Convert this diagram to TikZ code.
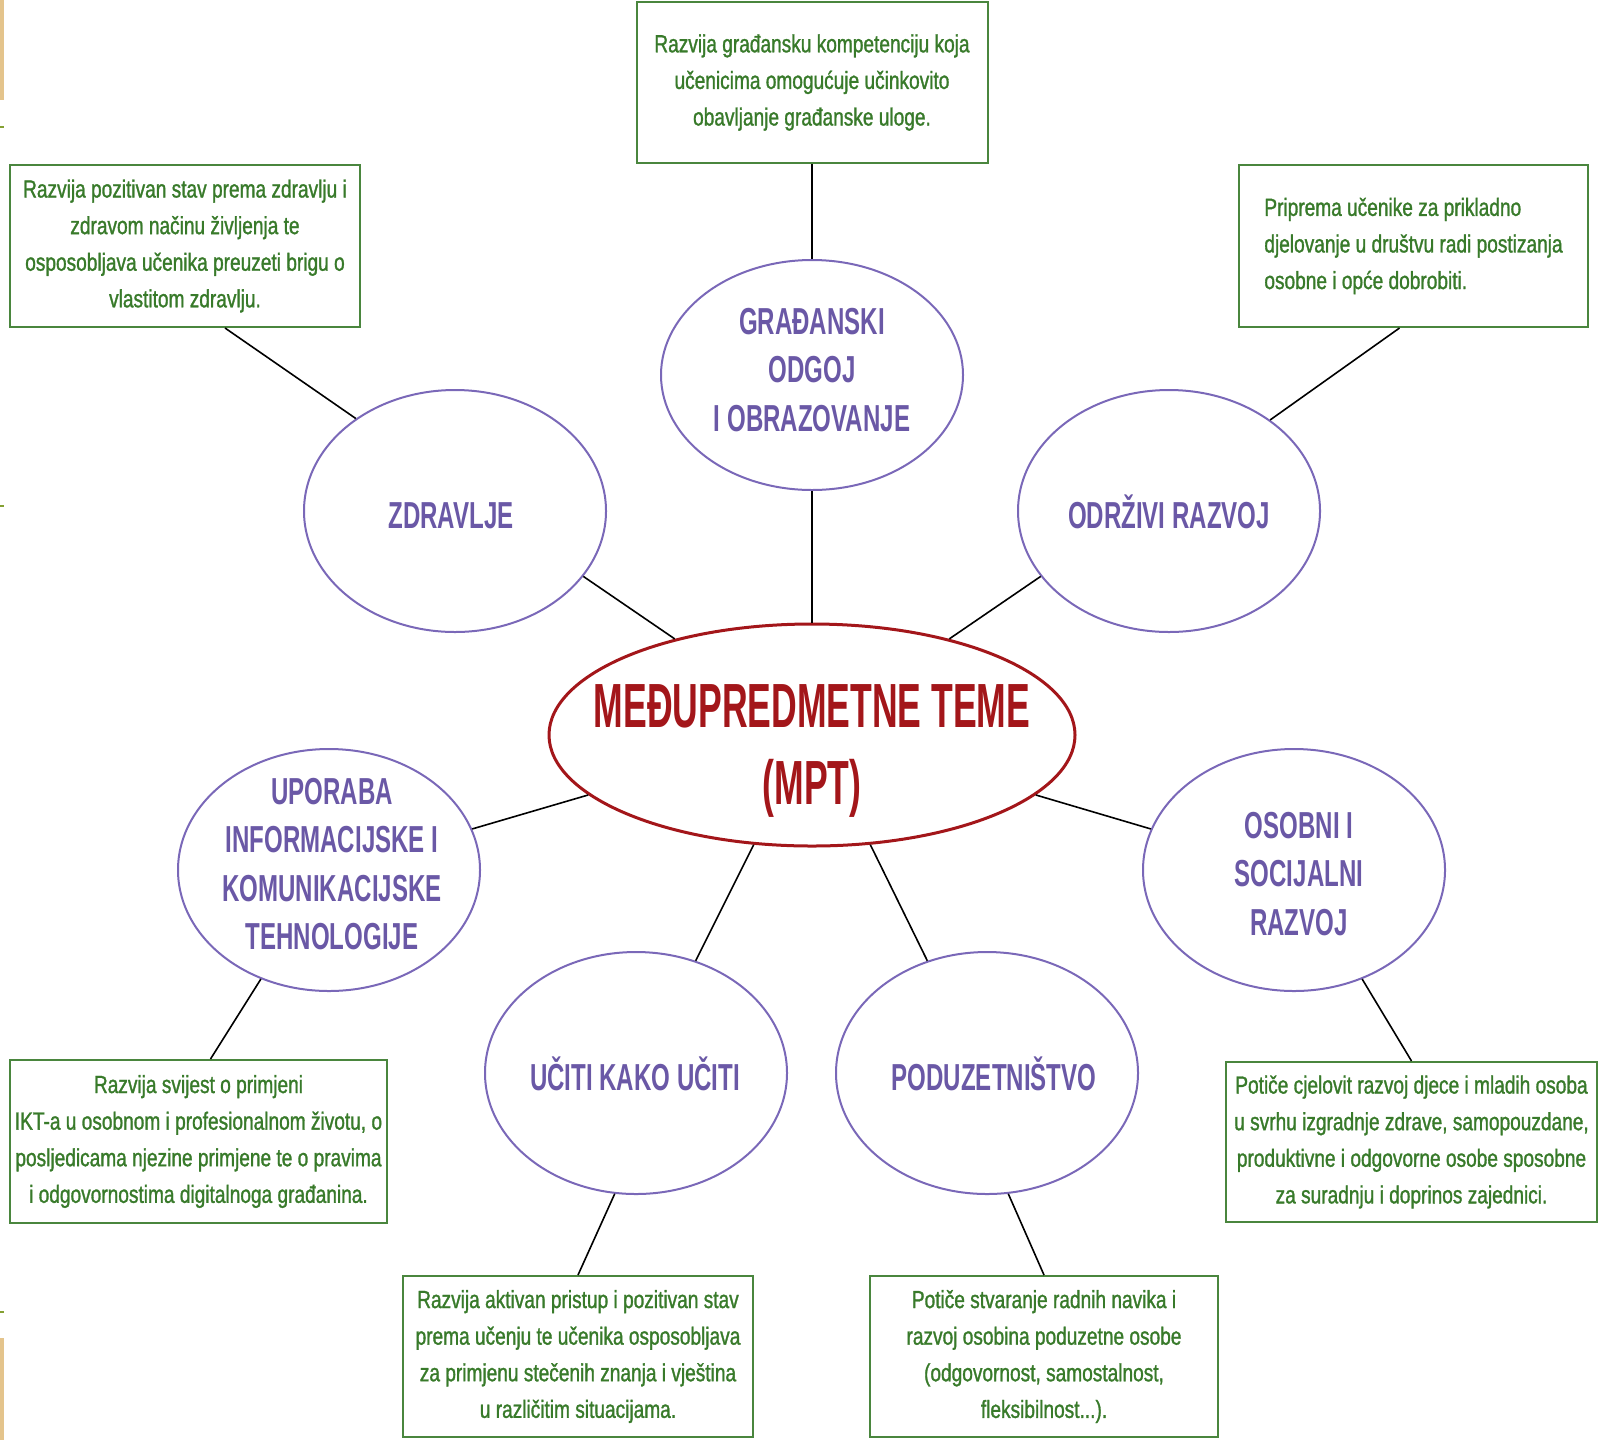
\documentclass[tikz,border=0pt]{standalone}
\usepackage{fontspec}
\setmainfont{Liberation Sans}
\newfontfamily\grnfont[FakeStretch=0.77,FakeBold=1.2]{Liberation Sans}
\newfontfamily\purfont[FakeStretch=0.64]{Liberation Sans}
\newfontfamily\redfont[FakeStretch=0.57]{Liberation Sans}
\usetikzlibrary{shapes.geometric,calc}
\definecolor{grntxt}{RGB}{56,122,42}
\definecolor{grnline}{RGB}{74,134,62}
\definecolor{purtxt}{RGB}{106,88,166}
\definecolor{purline}{RGB}{122,104,184}
\definecolor{redc}{RGB}{163,22,26}
\definecolor{edgebeige}{RGB}{228,196,140}
\definecolor{edgegreen}{RGB}{132,160,50}
\begin{document}
\begin{tikzpicture}[x=0.5pt,y=-0.5pt,
  gbox/.style={draw=grnline, line width=1pt, inner sep=0pt, align=center, text=grntxt,
    font=\grnfont\fontsize{12.4}{18.3}\selectfont},
  pell/.style={ellipse, draw=purline, line width=1pt, inner sep=0pt, minimum width=151pt, minimum height=121pt},
  ptext/.style={text=purtxt, align=center, inner sep=0pt, font=\purfont\bfseries\fontsize{18.8}{24.2}\selectfont},
  rell/.style={ellipse, draw=redc, line width=1.5pt, inner sep=0pt, minimum width=263pt, minimum height=111pt},
  rtext/.style={text=redc, align=center, inner sep=0pt, font=\redfont\bfseries\fontsize{31.2}{38.7}\selectfont},
  link/.style={draw=black, line width=0.8pt}]
\useasboundingbox (0,0) rectangle (1598,1440);
% left edge remnants
\fill[edgebeige] (0,0) rectangle (4,100);
\fill[edgegreen] (0,126) rectangle (4,128);
\fill[edgegreen] (0,505) rectangle (4,507);
\fill[edgegreen] (0,1311) rectangle (4,1313);
\fill[edgebeige] (0,1338) rectangle (4,1440);

% boxes
\node[gbox, minimum width=175.5pt, minimum height=80.5pt] (b1) at (812,82.5)
  {Razvija građansku kompetenciju koja\\učenicima omogućuje učinkovito\\obavljanje građanske uloge.};
\node[gbox, minimum width=175pt, minimum height=81pt] (b2) at (185,246)
  {Razvija pozitivan stav prema zdravlju i\\zdravom načinu življenja te\\osposobljava učenika preuzeti brigu o\\vlastitom zdravlju.};
\node[gbox, align=left, minimum width=174.5pt, minimum height=81pt] (b3) at (1413.5,246)
  {Priprema učenike za prikladno\\djelovanje u društvu radi postizanja\\osobne i opće dobrobiti.};
\node[gbox, minimum width=188.5pt, minimum height=81.5pt] (b4) at (198.5,1141.5)
  {Razvija svijest o primjeni\\IKT-a u osobnom i profesionalnom životu, o\\posljedicama njezine primjene te o pravima\\i odgovornostima digitalnoga građanina.};
\node[gbox, minimum width=185.5pt, minimum height=80pt] (b5) at (1411.5,1142)
  {Potiče cjelovit razvoj djece i mladih osoba\\u svrhu izgradnje zdrave, samopouzdane,\\produktivne i odgovorne osobe sposobne\\za suradnju i doprinos zajednici.};
\node[gbox, minimum width=175pt, minimum height=80.5pt] (b6) at (578,1356.5)
  {Razvija aktivan pristup i pozitivan stav\\prema učenju te učenika osposobljava\\za primjenu stečenih znanja i vještina\\u različitim situacijama.};
\node[gbox, minimum width=174pt, minimum height=80.5pt] (b7) at (1044,1356.5)
  {Potiče stvaranje radnih navika i\\razvoj osobina poduzetne osobe\\(odgovornost, samostalnost,\\fleksibilnost...).};

% ellipses
\node[pell, minimum height=115pt] (gr) at (812,375) {};
\node[pell] (zd) at (455,511) {};
\node[pell] (od) at (1169,511) {};
\node[pell] (up) at (329,870) {};
\node[pell] (os) at (1294,870) {};
\node[pell] (uc) at (636,1073) {};
\node[pell] (pd) at (987,1073) {};
\node[rell] (mpt) at (812,735) {};

% ellipse texts
\node[ptext] (grt) at (812,370) {GRAĐANSKI\\ODGOJ\\I OBRAZOVANJE};
\node[ptext] (zdt) at (451,516) {ZDRAVLJE};
\node[ptext] (odt) at (1169,512) {ODRŽIVI RAZVOJ};
\node[ptext] (upt) at (332,864) {UPORABA\\INFORMACIJSKE I\\KOMUNIKACIJSKE\\TEHNOLOGIJE};
\node[ptext] (ost) at (1299,874) {OSOBNI I\\SOCIJALNI\\RAZVOJ};
\node[ptext] (uct) at (635,1074) {UČITI KAKO UČITI};
\node[ptext] (pdt) at (994,1074) {PODUZETNIŠTVO};
\node[rtext] (mptt) at (812,751) {MEĐUPREDMETNE TEME\\(MPT)};

% connectors
\draw[link] (b1.south) -- (gr.north);
\draw[link] (gr.south) -- (mpt.north);
\draw[link] ($(b2.south)+(40,0)$) -- (zd.137);
\draw[link] (zd.-27) -- (mpt.145);
\draw[link] ($(b3.south)+(-14,0)$) -- (od.42);
\draw[link] (od.207) -- (mpt.35);
\draw[link] (up.16) -- (mpt.195);
\draw[link] (mpt.-15) -- (os.164);
\draw[link] (mpt.242) -- (uc.62);
\draw[link] (mpt.298) -- (pd.118);
\draw[link] (up.238) -- ($(b4.north)+(12,0)$);
\draw[link] (os.302) -- (b5.north);
\draw[link] (uc.260) -- (b6.north);
\draw[link] (pd.280) -- (b7.north);
\end{tikzpicture}
\end{document}
